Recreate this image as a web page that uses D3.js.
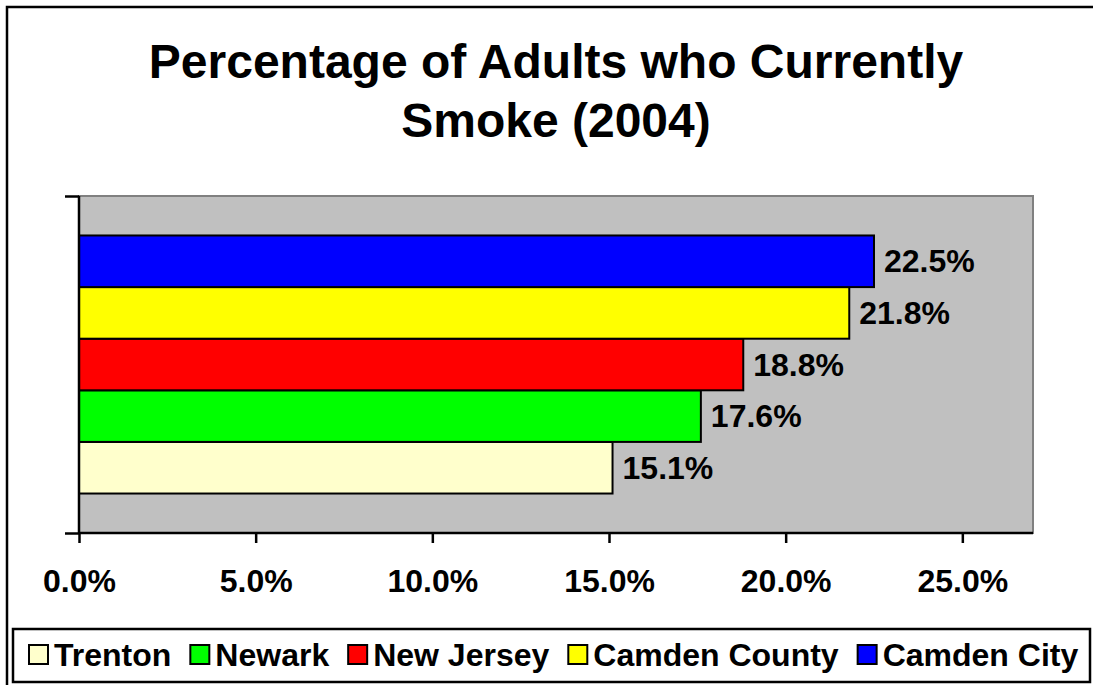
<!DOCTYPE html>
<html>
<head>
<meta charset="utf-8">
<script src="https://cdn.jsdelivr.net/npm/d3@7"></script>
<style>
  body { margin: 0; background: #fff; }
  text { font-family: "Liberation Sans", Arial, sans-serif; font-weight: bold; fill: #000; }
</style>
</head>
<body>
<div id="chart"></div>
<script>
// data
let series = ["Trenton", "Newark", "New Jersey", "Camden County", "Camden City"];
let values = [15.1, 17.6, 18.8, 21.8, 22.5];
let colors = ["#FFFFCC", "#00FF00", "#FF0000", "#FFFF00", "#0000FF"];
let xTicks = [0, 5, 10, 15, 20, 25];
let category = ["2004"];

let data = series.map((s, i) => ({ name: s, value: values[i], color: colors[i] }));

let width = 1093;
let height = 685;
let plot = { left: 79, right: 1033, top: 196, bottom: 533 };

let svg = d3.select("#chart")
    .append("svg")
    .attr("width", width)
    .attr("height", height);

// outer chart border (runs off right & bottom edge)
svg.append("rect")
    .attr("x", 7)
    .attr("y", 7)
    .attr("width", width + 10)
    .attr("height", height + 10)
    .attr("fill", "#fff")
    .attr("stroke", "#000")
    .attr("stroke-width", 2.5);

// title
let title = svg.append("text")
    .attr("text-anchor", "middle")
    .attr("font-size", 48);
title.append("tspan").attr("x", 556).attr("y", 78).text("Percentage of Adults who Currently");
title.append("tspan").attr("x", 556).attr("y", 137).text("Smoke (2004)");

let x = d3.scaleLinear()
    .domain([0, 27])
    .range([plot.left, plot.right]);

let yCat = d3.scaleBand()
    .domain(category)
    .range([plot.bottom, plot.top])
    .paddingOuter(0.153);

// top to bottom: last series on top
let ySeries = d3.scaleBand()
    .domain(series.slice().reverse())
    .range([0, yCat.bandwidth()]);

// plot area
svg.append("rect")
    .attr("x", plot.left)
    .attr("y", plot.top)
    .attr("width", plot.right - plot.left)
    .attr("height", plot.bottom - plot.top)
    .attr("fill", "#C0C0C0")
    .attr("stroke", "#808080")
    .attr("stroke-width", 2);

// bars
svg.selectAll("rect.bar")
    .data(data)
    .enter()
    .append("rect")
    .attr("class", "bar")
    .attr("x", x(0))
    .attr("y", d => yCat("2004") + ySeries(d.name))
    .attr("width", d => x(d.value) - x(0))
    .attr("height", ySeries.bandwidth())
    .attr("fill", d => d.color)
    .attr("stroke", "#000")
    .attr("stroke-width", 2);

// value labels
svg.selectAll("text.val")
    .data(data)
    .enter()
    .append("text")
    .attr("class", "val")
    .attr("font-size", 32)
    .attr("x", d => x(d.value) + 10)
    .attr("y", d => yCat("2004") + ySeries(d.name) + ySeries.bandwidth() / 2 + 11)
    .text(d => d.value.toFixed(1) + "%");

// x axis
let xAxis = d3.axisBottom(x)
    .tickValues(xTicks)
    .tickSize(10)
    .tickPadding(26)
    .tickFormat(d => d.toFixed(1) + "%");

let gx = svg.append("g")
    .attr("transform", "translate(0," + plot.bottom + ")")
    .call(xAxis);
gx.select(".domain").attr("stroke", "#000").attr("stroke-width", 2.5)
    .attr("d", "M" + plot.left + ",0H" + plot.right);
gx.selectAll(".tick line").attr("stroke", "#000").attr("stroke-width", 2.5);
gx.selectAll(".tick text")
    .attr("font-size", 32)
    .attr("font-family", "Liberation Sans, Arial, sans-serif")
    .attr("font-weight", "bold")
    .attr("fill", "#000");

// y axis (single category, ticks at the edges only)
let yEdge = d3.scaleLinear().domain([0, 1]).range([plot.bottom, plot.top]);
let yAxis = d3.axisLeft(yEdge)
    .tickValues([0, 1])
    .tickSize(14)
    .tickFormat("");
let gy = svg.append("g")
    .attr("transform", "translate(" + plot.left + ",0)")
    .call(yAxis);
gy.select(".domain").attr("stroke", "#000").attr("stroke-width", 2.5)
    .attr("d", "M0," + plot.top + "V" + plot.bottom);
gy.selectAll(".tick line").attr("stroke", "#000").attr("stroke-width", 2.5);

// legend
let legend = svg.append("g");
legend.append("rect")
    .attr("x", 13)
    .attr("y", 629)
    .attr("width", 1077)
    .attr("height", 53)
    .attr("fill", "#fff")
    .attr("stroke", "#000")
    .attr("stroke-width", 2.5);

let lx = 29;
data.forEach(d => {
    let item = legend.append("g").attr("transform", "translate(" + lx + ",0)");
    item.append("rect")
        .attr("x", 0)
        .attr("y", 645)
        .attr("width", 19)
        .attr("height", 19)
        .attr("fill", d.color)
        .attr("stroke", "#000")
        .attr("stroke-width", 2);
    let t = item.append("text")
        .attr("x", 25)
        .attr("y", 666)
        .attr("font-size", 32)
        .text(d.name);
    lx += 25 + t.node().getComputedTextLength() + 19;
});
</script>
</body>
</html>
